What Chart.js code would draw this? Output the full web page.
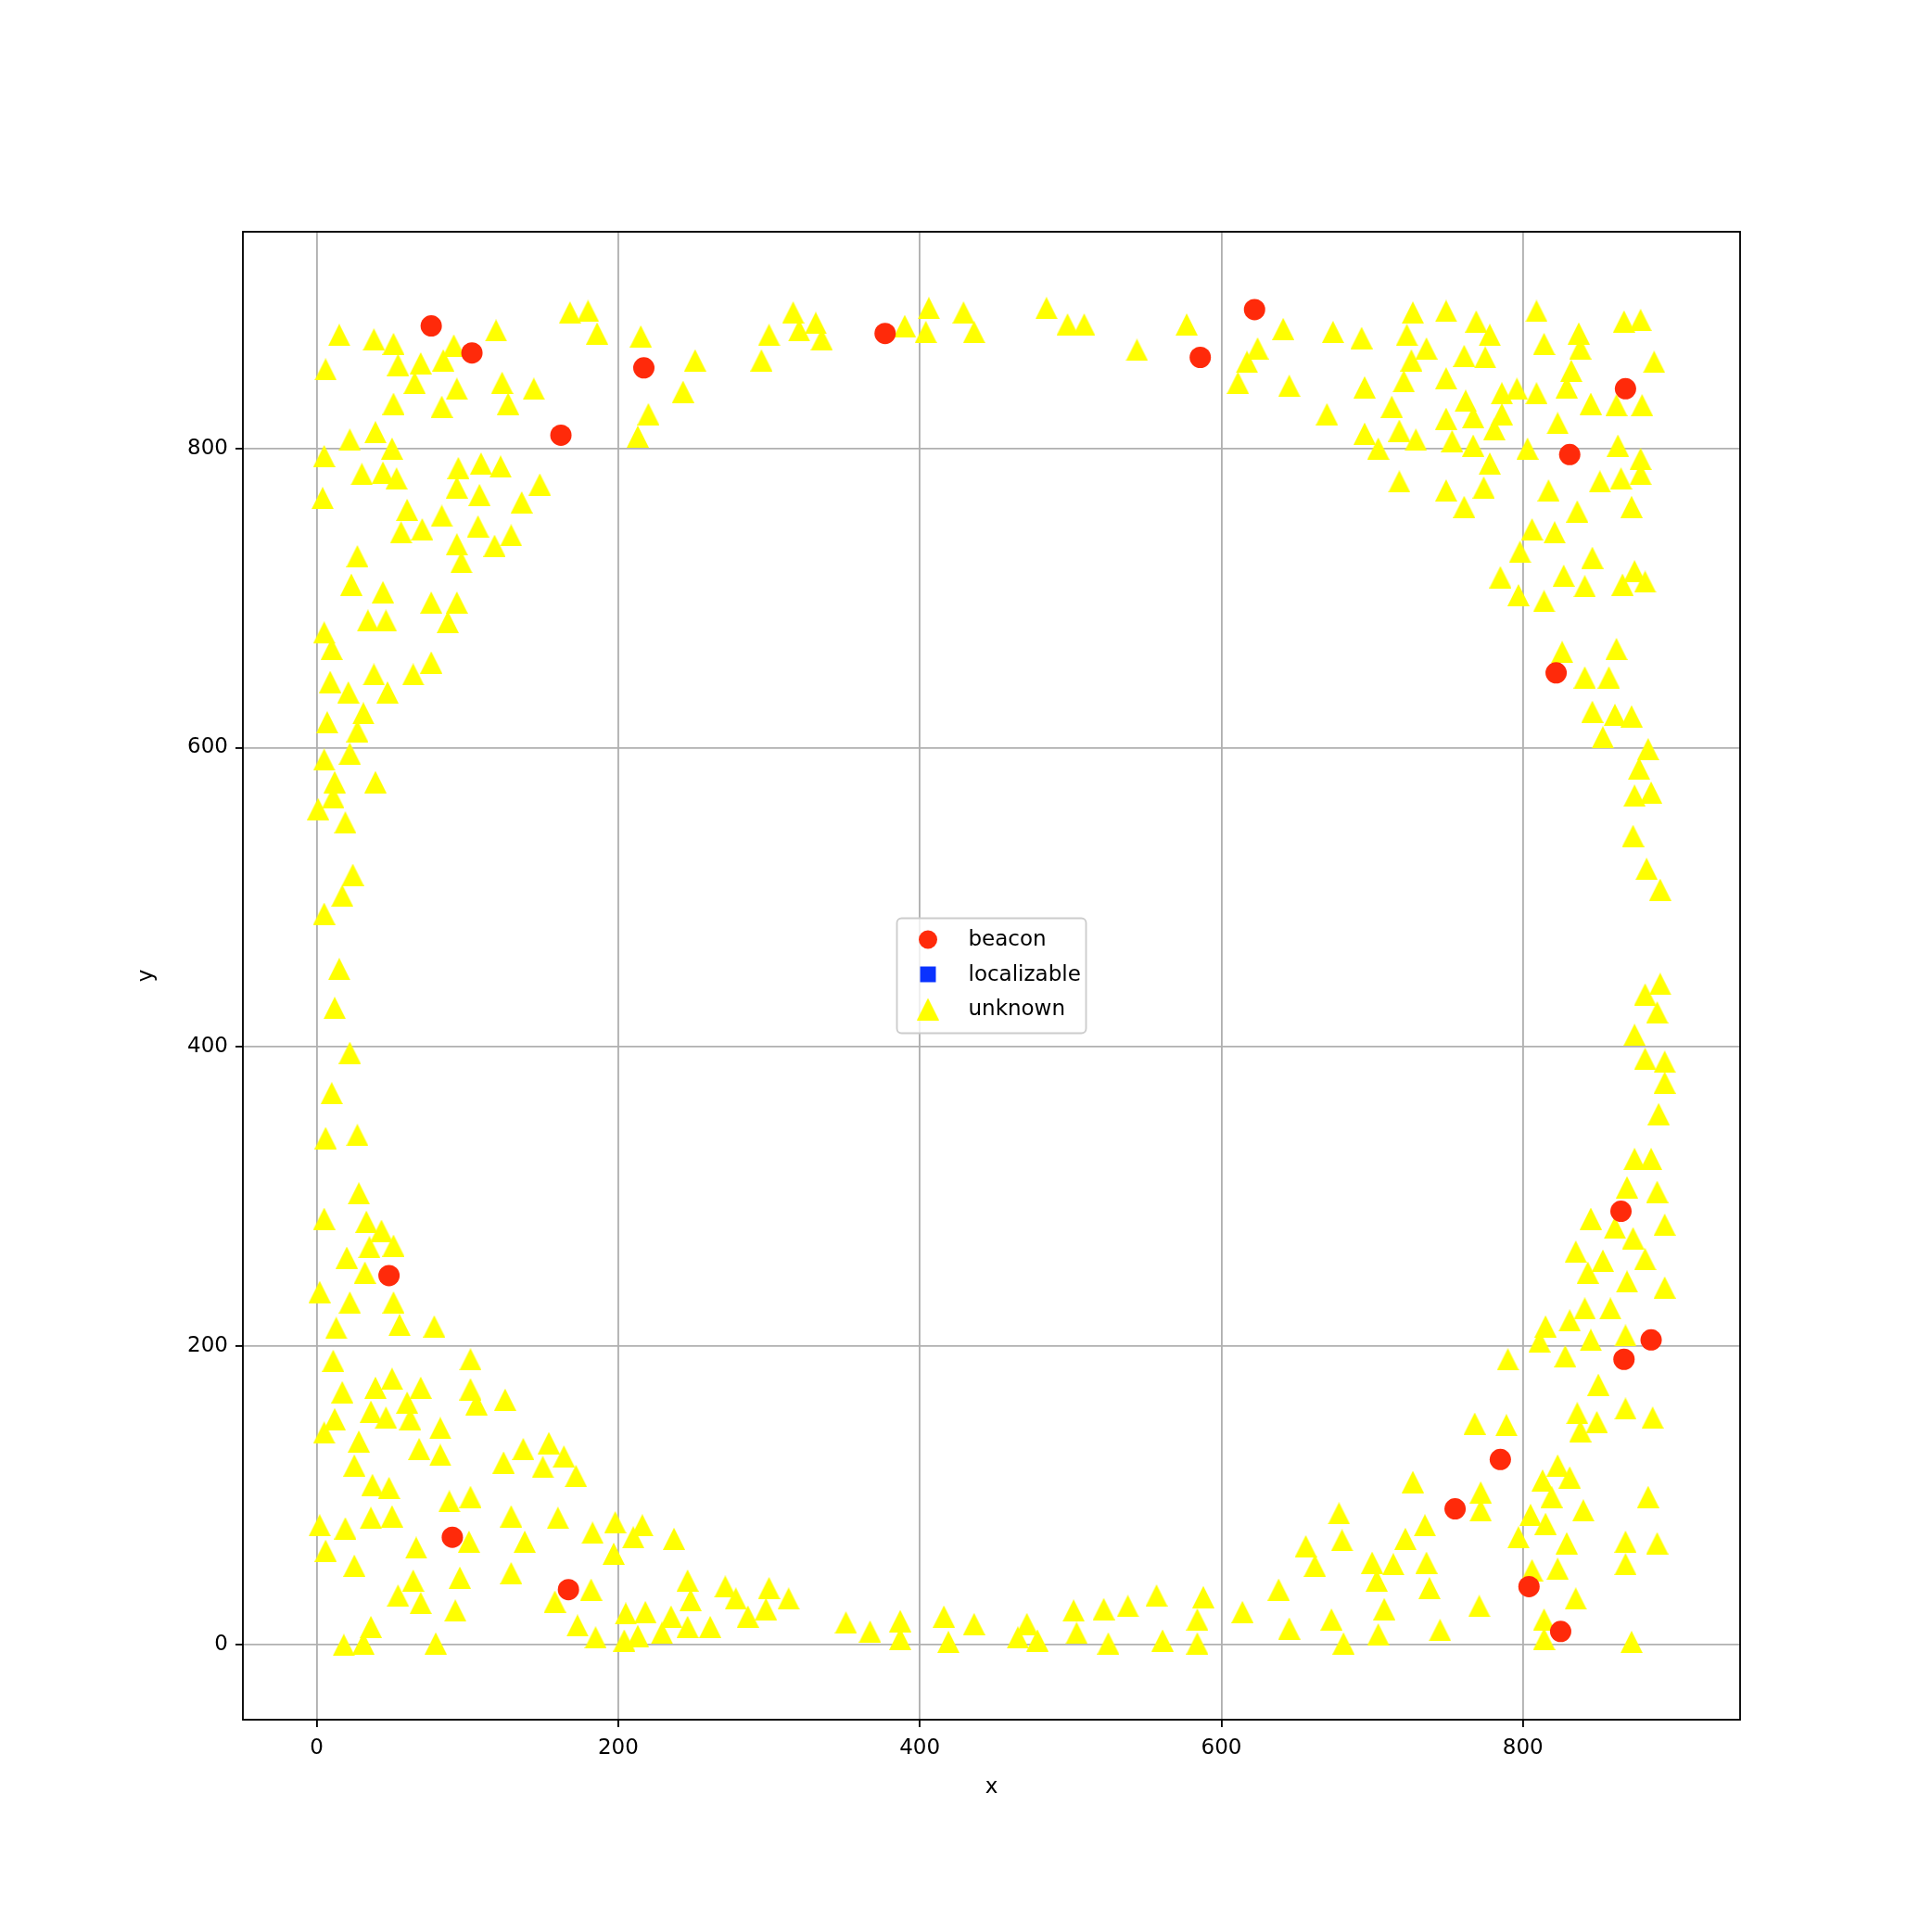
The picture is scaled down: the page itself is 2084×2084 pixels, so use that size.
<!DOCTYPE html>
<html>
<head>
<meta charset="utf-8">
<script src="https://cdn.jsdelivr.net/npm/chart.js@4.4.1/dist/chart.umd.min.js"></script>
<style>
  html, body { margin: 0; padding: 0; background: #fff; }
  #plot { display: block; }
</style>
</head>
<body>
<canvas id="plot" width="2084" height="2084"></canvas>
<script>
// ── data ──
const X_TICKS = [0, 200, 400, 600, 800];
const Y_TICKS = [0, 200, 400, 600, 800];
const X_RANGE = [-48.9, 944];
const Y_RANGE = [-50, 945];

const BEACONS = [
  [76,882],[103,864],[162,809],[217,854],[377,877],[586,861],[622,893],
  [868,840],[831,796],[822,650],[48,247],[90,72],[167,37],[865,290],
  [885,204],[867,191],[785,124],[755,91],[804,39],[825,9]
];
const LOCALIZABLE = [];

// unknown nodes, split by corner / band
const UNK_TOP_LEFT = [
  [15,876],[6,853],[38,873],[51,870],[54,856],[69,857],[65,844],[84,859],[91,869],[93,840],
  [119,879],[123,844],[127,830],[144,840],[51,830],[83,828],[168,891],[180,892],[186,877],
  [39,811],[22,806],[50,800],[5,795],[30,783],[44,784],[53,780],[94,787],[109,790],[122,788],
  [93,774],[148,776],[4,767],[108,769],[136,764],[60,759],[83,755],[56,744],[70,746],[107,748],
  [129,742],[93,736],[118,735],[96,724],[27,728],[23,709],[44,704],[34,685],[46,685],[76,697],
  [93,697],[87,684],[5,677],[10,666],[76,657],[64,649],[38,649],[9,644],[21,637],[47,637]
];
const UNK_LEFT = [
  [7,617],[31,623],[27,611],[5,592],[22,596],[12,577],[39,577],[11,567],[1,559],[19,550],
  [24,515],[17,501],[5,489],[15,452],[12,426],[22,396],[10,369],[6,339],[27,341]
];
const UNK_BOTTOM_LEFT = [
  [28,302],[5,285],[33,283],[43,277],[35,266],[51,267],[20,259],[32,249],[2,236],[22,229],
  [51,229],[13,212],[55,214],[78,213],[11,190],[102,191],[17,169],[39,172],[50,178],[69,172],
  [60,162],[102,171],[106,161],[125,164],[12,151],[36,156],[46,152],[62,151],[82,145],[5,142],
  [28,136],[68,131],[82,127],[25,120],[124,122],[137,131],[154,135],[150,119],[164,126],[172,113],
  [37,107],[48,105],[88,96],[102,99],[36,85],[50,86],[2,80],[19,78],[129,86],[160,85],
  [183,75],[6,63],[66,65],[101,69],[138,69],[25,53],[95,45],[129,48],[64,43],[54,33],
  [69,28],[92,23],[158,29],[182,37],[173,13],[185,5],[36,12],[18,0],[31,1],[79,1]
];
const UNK_BOTTOM = [
  [198,82],[216,80],[237,71],[210,72],[197,61],[246,43],[248,30],[271,39],[278,31],[286,19],
  [300,38],[298,24],[313,31],[205,21],[218,22],[204,3],[213,6],[229,8],[235,19],[246,12],
  [261,12],[351,15],[367,9],[387,16],[387,4],[416,19],[419,2],[436,14],[471,14],[465,5],
  [478,3],[502,23],[504,8],[522,24],[525,1],[538,26],[557,33],[561,3],[588,32],[584,17],
  [584,1],[614,22],[638,37],[645,11],[656,66],[662,53],[678,88],[680,70],[673,17],[681,1],
  [700,55],[703,43],[714,54],[708,24],[704,7]
];
const UNK_BOTTOM_RIGHT = [
  [727,109],[772,102],[772,90],[823,120],[813,110],[831,112],[819,99],[883,99],[805,87],[815,81],
  [840,90],[735,80],[722,71],[797,72],[829,68],[868,69],[889,68],[736,55],[823,51],[806,50],
  [868,54],[738,38],[771,26],[835,31],[745,10],[814,17],[814,4],[872,2],
  [869,306],[889,303],[845,285],[861,279],[894,281],[873,272],[835,263],[853,257],[881,258],[843,249],
  [869,243],[894,239],[841,225],[858,225],[831,217],[815,213],[811,203],[845,204],[868,207],[790,191],
  [828,193],[850,174],[836,155],[868,158],[886,152],[849,149],[768,148],[789,147],[838,143]
];
const UNK_RIGHT = [
  [874,568],[885,570],[873,541],[882,519],[891,505],[891,442],[881,435],[889,423],[874,408],[881,392],
  [894,390],[894,376],[890,355],[874,325],[885,325],
  [806,746],[821,744],[798,731],[846,727],[785,714],[827,715],[841,708],[874,718],[866,709],[881,711],
  [797,702],[814,698],[826,664],[862,666],[841,647],[857,647],[846,624],[861,622],[872,621],[853,607],
  [883,599],[877,586]
];
const UNK_TOP_RIGHT = [
  [727,891],[749,892],[769,885],[693,874],[723,876],[778,876],[736,867],[726,859],[761,862],[775,861],
  [809,892],[814,870],[837,877],[838,867],[867,885],[878,886],[887,858],[832,852],[829,841],[695,841],
  [721,845],[749,847],[786,837],[796,840],[809,837],[713,828],[762,832],[767,821],[786,823],[749,820],
  [718,812],[729,806],[753,805],[767,802],[781,813],[695,810],[704,800],[845,830],[862,829],[879,829],
  [823,817],[863,802],[878,793],[803,800],[778,790],[718,778],[749,772],[774,774],[817,772],[851,778],
  [865,780],[878,783],[761,761],[836,758],[872,761]
];
const UNK_TOP = [
  [484,894],[498,883],[509,883],[544,866],[577,883],[641,880],[674,878],[624,867],[617,858],[611,844],
  [645,842],[670,823],
  [215,875],[251,859],[243,838],[220,823],[213,808],[300,876],[295,859],[316,891],[320,879],[331,884],
  [335,873],[390,882],[406,894],[404,878],[429,891],[436,878]
];

const UNKNOWN = [].concat(UNK_TOP_LEFT, UNK_LEFT, UNK_BOTTOM_LEFT, UNK_BOTTOM,
  UNK_BOTTOM_RIGHT, UNK_RIGHT, UNK_TOP_RIGHT, UNK_TOP);

// ── look ──
const RED = '#ff2a0a';
const BLUE = '#0a32ff';
const YELLOW = '#ffff00';
const FONT = "'DejaVu Sans', sans-serif";
const FS = 23;
const LW = 1.85;

// matplotlib-style '^' marker (isosceles, box-centred)
function triangleMarker(size, color) {
  const c = document.createElement('canvas');
  c.width = size; c.height = size;
  const g = c.getContext('2d');
  g.fillStyle = color;
  g.beginPath();
  g.moveTo(size / 2, 0);
  g.lineTo(size, size);
  g.lineTo(0, size);
  g.closePath();
  g.fill();
  return c;
}
const TRI = triangleMarker(24, YELLOW);

const toXY = pts => pts.map(p => ({ x: p[0], y: p[1] }));

// axes frame on all four sides
const frame = {
  id: 'frame',
  afterDraw(chart) {
    const { ctx, chartArea: a } = chart;
    ctx.save();
    ctx.strokeStyle = '#000';
    ctx.lineWidth = LW;
    ctx.strokeRect(a.left, a.top, a.right - a.left, a.bottom - a.top);
    ctx.restore();
  }
};

// legend box centred in the plot, like loc='center'
const centerLegend = {
  id: 'centerLegend',
  afterDraw(chart) {
    const { ctx, chartArea: a } = chart;
    const w = 204, h = 124;
    const x0 = (a.left + a.right) / 2 - w / 2;
    const y0 = (a.top + a.bottom) / 2 - h / 2;
    ctx.save();
    ctx.fillStyle = 'rgba(255,255,255,0.8)';
    ctx.strokeStyle = '#cccccc';
    ctx.lineWidth = LW;
    ctx.beginPath();
    ctx.roundRect(x0, y0, w, h, 5);
    ctx.fill();
    ctx.stroke();
    ctx.font = FS + 'px ' + FONT;
    ctx.textBaseline = 'middle';
    ctx.textAlign = 'left';
    chart.data.datasets.forEach((ds, i) => {
      const cy = y0 + 23 + i * 37.5;
      ctx.fillStyle = ds.backgroundColor;
      Chart.helpers.drawPoint(ctx, {
        pointStyle: ds.pointStyle, radius: ds.legendRadius, rotation: 0, borderWidth: 0
      }, x0 + 33.5, cy);
      ctx.fillStyle = '#000';
      ctx.fillText(ds.label, x0 + 77, cy + 1);
    });
    ctx.restore();
  }
};

function axis(range, ticks, titleText, isX) {
  return {
    type: 'linear',
    position: isX ? 'bottom' : 'left',
    min: range[0],
    max: range[1],
    z: 1,
    afterBuildTicks: s => { s.ticks = ticks.map(v => ({ value: v })); },
    afterFit: s => { if (isX) s.height = 229; else s.width = 262; },
    grid: {
      color: '#b0b0b0', lineWidth: LW,
      drawTicks: true, tickLength: 8, tickColor: '#000', tickWidth: LW
    },
    border: { display: false },
    ticks: {
      color: '#000', font: { family: FONT, size: FS }, padding: isX ? 9 : 8,
      maxRotation: 0, autoSkip: false, callback: v => String(v)
    },
    title: {
      display: true, text: titleText, color: '#000',
      font: { family: FONT, size: FS },
      padding: isX ? { top: 0, bottom: 142 } : { top: 144, bottom: 0 }
    }
  };
}

Chart.defaults.font.family = FONT;

new Chart(document.getElementById('plot'), {
  type: 'scatter',
  data: {
    datasets: [
      { label: 'beacon', data: toXY(BEACONS), pointStyle: 'circle', radius: 11.5,
        backgroundColor: RED, borderColor: RED, borderWidth: 0, legendRadius: 10 },
      { label: 'localizable', data: toXY(LOCALIZABLE), pointStyle: 'rect', radius: 11.5,
        backgroundColor: BLUE, borderColor: BLUE, borderWidth: 0, legendRadius: 12 },
      { label: 'unknown', data: toXY(UNKNOWN), pointStyle: TRI, radius: 12,
        backgroundColor: YELLOW, borderColor: YELLOW, borderWidth: 0, legendRadius: 12 }
    ]
  },
  options: {
    responsive: false,
    animation: false,
    layout: { padding: { left: 0, top: 250, right: 207, bottom: 0 } },
    plugins: { legend: { display: false }, tooltip: { enabled: false } },
    elements: { point: { hoverRadius: 12 } },
    scales: {
      x: axis(X_RANGE, X_TICKS, 'x', true),
      y: axis(Y_RANGE, Y_TICKS, 'y', false)
    }
  },
  plugins: [frame, centerLegend]
});
</script>
</body>
</html>
